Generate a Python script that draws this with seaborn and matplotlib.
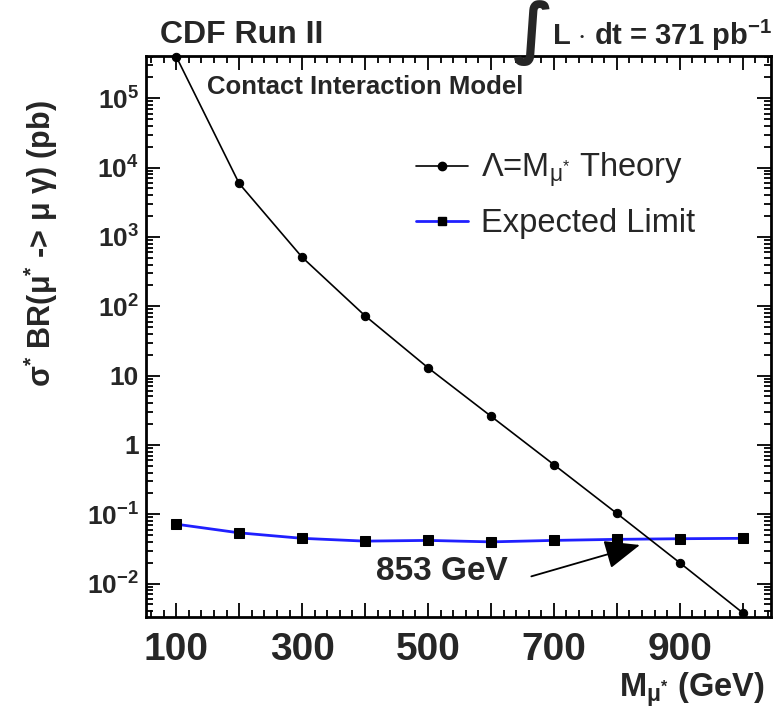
import numpy as np
import pandas as pd
import matplotlib
matplotlib.use("Agg")
import matplotlib.pyplot as plt
import seaborn as sns
from matplotlib.lines import Line2D
from matplotlib.ticker import MultipleLocator, LogLocator, NullFormatter, FixedLocator, FixedFormatter

# ---- data ----
mass = [100, 200, 300, 400, 500, 600, 700, 800, 900, 1000]
theory = [4.0e5, 5.9e3, 510, 73, 13, 2.6, 0.52, 0.103, 0.020, 0.0038]
expected = [0.072, 0.054, 0.045, 0.041, 0.042, 0.040, 0.042, 0.0435, 0.0444, 0.045]
xtick_values = [100, 200, 300, 400, 500, 600, 700, 800, 900, 1000]
xtick_labels = ["100", "", "300", "", "500", "", "700", "", "900", ""]
ytick_values = [1e-2, 1e-1, 1, 10, 1e2, 1e3, 1e4, 1e5]
ytick_labels = [r"10$^{\mathbf{-2}}$", r"10$^{\mathbf{-1}}$", "1", "10",
                r"10$^{\mathbf{2}}$", r"10$^{\mathbf{3}}$", r"10$^{\mathbf{4}}$", r"10$^{\mathbf{5}}$"]
limit_label = "853 GeV"
limit_mass = 853

sns.set_theme(style="ticks")
plt.rcParams["font.family"] = ["Liberation Sans", "DejaVu Sans"]
plt.rcParams["mathtext.fontset"] = "custom"
plt.rcParams["mathtext.rm"] = "Liberation Sans"
plt.rcParams["mathtext.it"] = "Liberation Sans:italic"
plt.rcParams["mathtext.bf"] = "Liberation Sans:bold"

df_t = pd.DataFrame({"mass": mass, "sigma": theory})
df_e = pd.DataFrame({"mass": mass, "sigma": expected})

fig = plt.figure(figsize=(7.75, 7.1), dpi=100)
ax = fig.add_axes([146 / 775, 1 - 617 / 710, (771 - 146) / 775, (617 - 56) / 710])

blue = "#2020ff"
sns.lineplot(data=df_e, x="mass", y="sigma", ax=ax, color=blue, lw=2.0,
             marker="s", markersize=7, markerfacecolor="black", markeredgecolor="black",
             clip_on=False, zorder=3)
sns.lineplot(data=df_t, x="mass", y="sigma", ax=ax, color="black", lw=1.2,
             marker="o", markersize=6, markerfacecolor="black", markeredgecolor="black",
             clip_on=False, zorder=4)

ax.set_yscale("log")
ax.set_xlim(52, 1045)
ax.set_ylim(3.3e-3, 4.07e5)

ax.xaxis.set_major_locator(FixedLocator(xtick_values))
ax.xaxis.set_major_formatter(FixedFormatter(xtick_labels))
ax.xaxis.set_minor_locator(MultipleLocator(20))
ax.yaxis.set_major_locator(FixedLocator(ytick_values))
ax.yaxis.set_major_formatter(FixedFormatter(ytick_labels))
ax.yaxis.set_minor_locator(LogLocator(base=10, subs=np.arange(2, 10), numticks=30))
ax.yaxis.set_minor_formatter(NullFormatter())

ax.tick_params(which="both", direction="in", top=True, right=True, width=1.3, color="black")
ax.tick_params(which="major", length=10)
ax.tick_params(which="minor", length=5)
ax.tick_params(axis="x", which="major", labelsize=28, pad=11)
ax.tick_params(axis="y", which="major", labelsize=19, pad=5)
for lab in ax.get_xticklabels() + ax.get_yticklabels():
    lab.set_fontweight("bold")
for sp in ax.spines.values():
    sp.set_linewidth(2)
    sp.set_color("black")

ax.set_ylabel(r"σ$^{\mathbf{*}}$ BR(μ$^{\mathbf{*}}$ -> μ γ) (pb)", fontsize=22,
              fontweight="bold")
ax.yaxis.set_label_coords(-0.138, 0.665)
ax.set_xlabel(r"M$_{\mathbf{μ^{*}}}$ (GeV)", fontsize=23.5, fontweight="bold")
ax.xaxis.label.set_horizontalalignment("right")
ax.xaxis.label.set_verticalalignment("top")
ax.xaxis.set_label_coords(0.99, -0.095)

# legend
handles = [
    Line2D([], [], color="black", lw=1.2, marker="o", markersize=6),
    Line2D([], [], color=blue, lw=2.0, marker="s", markersize=6,
           markerfacecolor="black", markeredgecolor="black"),
]
labels = [r"Λ=M$_{\mathrm{μ}^{*}}$ Theory", "Expected Limit"]
ax.legend(handles, labels, loc="center left", bbox_to_anchor=(0.385, 0.752),
          frameon=False, fontsize=23.5, handlelength=1.6, labelspacing=0.55,
          handletextpad=0.4)

# annotations
ax.text(0.098, 0.966, "Contact Interaction Model", transform=ax.transAxes,
        fontsize=18.5, fontweight="bold", va="top", ha="left")
ax.text(522, 0.0148, limit_label, fontsize=24, fontweight="bold", ha="center", va="center")
ax.annotate("", xy=(limit_mass - 12, 0.037), xytext=(660, 0.0124),
            arrowprops=dict(arrowstyle="-|>,head_length=1.1,head_width=0.45",
                            color="black", lw=1.3, mutation_scale=20))

fig.text(160 / 775, 1 - 35 / 710, "CDF Run II", fontsize=23, fontweight="bold",
         ha="left", va="center")
fig.text(532 / 775, 1 - 33 / 710, "∫", fontsize=48, ha="center", va="center",
         family=["DejaVu Sans"], fontweight="bold")
fig.text(552 / 775, 1 - 35 / 710, r"L $\mathbf{\cdot}$ dt = 371 pb$^{\mathbf{-1}}$",
         fontsize=21, fontweight="bold", ha="left", va="center")

fig.savefig("out.png", dpi=100)
